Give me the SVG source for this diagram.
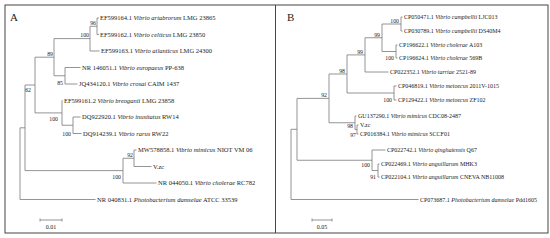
<svg xmlns="http://www.w3.org/2000/svg" width="550" height="238" viewBox="0 0 550 238">
<style>
.frame{fill:none;stroke:#444;stroke-width:1}
.br{fill:none;stroke:#7a7a7a;stroke-width:0.8}
.lf{font-family:"Liberation Serif",serif;font-size:6.5px;fill:#222}
.lfb{font-family:"Liberation Serif",serif;font-size:6px;fill:#222}
.bs{font-family:"Liberation Serif",serif;font-size:5.8px;fill:#222;text-anchor:end}
.it{font-style:italic}
.pl{font-family:"Liberation Serif",serif;font-size:11px;fill:#222}
.sc{font-family:"Liberation Serif",serif;font-size:6px;fill:#222;text-anchor:middle}
</style>
<rect class="frame" x="5" y="5" width="543" height="228"/>
<line class="frame" x1="275.5" y1="5" x2="275.5" y2="233"/>
<text class="pl" x="10" y="21">A</text>
<text class="pl" x="287" y="21">B</text>
<g id="connectors">
<path class="br" d="M97,18V34.5 M97,18H99 M97,34.5H99 M90,26.25H97 M90,26.25V51 M90,51H99.5 M54,38.6H90 M54,38.6V75.75 M54,75.75H65 M65,67.5V84 M65,67.5H80.5 M65,84H77.5 M35,57.2H54 M35,57.2V112.9 M35,112.9H62 M62,100.5V125.25 M62,100.5H62.5 M62,125.25H73 M73,117V133.5 M73,117H80.5 M73,133.5H81.5 M25,85H35 M25,85V170.6 M25,170.6H123 M123,158.25V183 M123,158.25H134 M134,150V166.5 M134,150H136.5 M134,166.5H151.5 M123,183H156.5 M20,127.8H25 M20,127.8V199.5 M20,199.5H95.5"/>
<path class="br" d="M401,17V31 M401,17H402.5 M401,31H402.5 M382,24H401 M382,24V51.5 M382,51.5H396 M396,45V58 M396,45H397.5 M396,58H397.5 M365,37.75H382 M365,37.75V72 M365,72H388.5 M347,54.9H365 M347,54.9V93 M347,93H394 M394,86V100 M394,86H396.5 M394,100H396.5 M329,74H347 M329,74V122.75 M329,122.75H355 M355,116V129.5 M355,116H356.5 M355,129.5H357 M357,125V134 M357,125H358.5 M357,134H358.5 M297,98.4H329 M297,98.4V160.25 M297,160.25H372 M372,150V170.5 M372,150H385.5 M372,170.5H378 M378,164V177 M378,164H379.5 M378,177H379.5 M291,129.3H297 M291,129.3V199.5 M291,199.5H418.5"/>
<path class="br" d="M40,220H62 M40,218.5V221.5 M62,218.5V221.5 M312,220H332 M312,218.5V221.5 M332,218.5V221.5"/>
</g>
<g id="bootstrap">
<text class="bs" x="96" y="24.5">96</text>
<text class="bs" x="89" y="37">100</text>
<text class="bs" x="53" y="55.5">89</text>
<text class="bs" x="63" y="85">85</text>
<text class="bs" x="31" y="92">62</text>
<text class="bs" x="58" y="121">100</text>
<text class="bs" x="71" y="135.5">100</text>
<text class="bs" x="133" y="156.5">92</text>
<text class="bs" x="121" y="179">100</text>
<text class="bs" x="399" y="22.5">100</text>
<text class="bs" x="380" y="36.5">99</text>
<text class="bs" x="394" y="60">100</text>
<text class="bs" x="363" y="53.5">99</text>
<text class="bs" x="345" y="72.5">98</text>
<text class="bs" x="392" y="101.5">100</text>
<text class="bs" x="327" y="97">92</text>
<text class="bs" x="353" y="127.5">98</text>
<text class="bs" x="356" y="136.5">97</text>
<text class="bs" x="370" y="167">100</text>
<text class="bs" x="376" y="179">91</text>
</g>
<g id="nodeA0"><text class="lf" x="100" y="20.2">EF599164.1 <tspan class="it">Vibrio artabrorum</tspan> LMG 23865</text></g>
<g id="nodeA1"><text class="lf" x="100" y="36.7">EF599162.1 <tspan class="it">Vibrio celticus</tspan> LMG 23850</text></g>
<g id="nodeA2"><text class="lf" x="101" y="53.2">EF599163.1 <tspan class="it">Vibrio atlanticus</tspan> LMG 24300</text></g>
<g id="nodeA3"><text class="lf" x="82" y="69.7">NR 146051.1 <tspan class="it">Vibrio europaeus</tspan> PP-638</text></g>
<g id="nodeA4"><text class="lf" x="79" y="86.2">JQ434120.1 <tspan class="it">Vibrio crosai</tspan> CAIM 1437</text></g>
<g id="nodeA5"><text class="lf" x="64" y="102.7">EF599161.2 <tspan class="it">Vibrio breoganii</tspan> LMG 23858</text></g>
<g id="nodeA6"><text class="lf" x="82" y="119.2">DQ922920.1 <tspan class="it">Vibrio inusitatus</tspan> RW14</text></g>
<g id="nodeA7"><text class="lf" x="83" y="135.7">DQ914239.1 <tspan class="it">Vibrio rarus</tspan> RW22</text></g>
<g id="nodeA8"><text class="lf" x="138" y="152.2">MW578858.1 <tspan class="it">Vibrio mimicus</tspan> NIOT VM 06</text></g>
<g id="nodeA9"><text class="lf" x="153" y="168.7">V.zc</text></g>
<g id="nodeA10"><text class="lf" x="158" y="185.2">NR 044050.1 <tspan class="it">Vibrio cholerae</tspan> RC782</text></g>
<g id="nodeA11"><text class="lf" x="97" y="201.7">NR 040831.1 <tspan class="it">Photobacterium damselae</tspan> ATCC 33539</text></g>
<g id="nodeB0"><text class="lfb" x="404" y="19">CP050471.1 <tspan class="it">Vibrio campbellii</tspan> LJC013</text></g>
<g id="nodeB1"><text class="lfb" x="404" y="33">CP030789.1 <tspan class="it">Vibrio campbellii</tspan> DS40M4</text></g>
<g id="nodeB2"><text class="lfb" x="399" y="47">CP196622.1 <tspan class="it">Vibrio cholerae</tspan> A103</text></g>
<g id="nodeB3"><text class="lfb" x="399" y="60">CP196624.1 <tspan class="it">Vibrio cholerae</tspan> 569B</text></g>
<g id="nodeB4"><text class="lfb" x="390" y="74">CP022352.1 <tspan class="it">Vibrio tarriae</tspan> 2521-89</text></g>
<g id="nodeB5"><text class="lfb" x="398" y="88">CP046819.1 <tspan class="it">Vibrio metoecus</tspan> 2011V-1015</text></g>
<g id="nodeB6"><text class="lfb" x="398" y="102">CP129422.1 <tspan class="it">Vibrio metoecus</tspan> ZF102</text></g>
<g id="nodeB7"><text class="lfb" x="358" y="118">GU137290.1 <tspan class="it">Vibrio mimicus</tspan> CDC08-2487</text></g>
<g id="nodeB8"><text class="lfb" x="360" y="127">V.zc</text></g>
<g id="nodeB9"><text class="lfb" x="360" y="136">CP016384.1 <tspan class="it">Vibrio mimicus</tspan> SCCF01</text></g>
<g id="nodeB10"><text class="lfb" x="387" y="152">CP022742.1 <tspan class="it">Vibrio qinghaiensis</tspan> Q67</text></g>
<g id="nodeB11"><text class="lfb" x="381" y="166">CP022469.1 <tspan class="it">Vibrio anguillarum</tspan> MHK3</text></g>
<g id="nodeB12"><text class="lfb" x="381" y="179">CP022104.1 <tspan class="it">Vibrio anguillarum</tspan> CNEVA NB11008</text></g>
<g id="nodeB13"><text class="lfb" x="420" y="201.5">CP073687.1 <tspan class="it">Photobacterium damselae</tspan> Pdd1605</text></g>
<g id="scalebars">
<text class="sc" x="51" y="229">0.01</text>
<text class="sc" x="322" y="229">0.05</text>
</g>
</svg>
